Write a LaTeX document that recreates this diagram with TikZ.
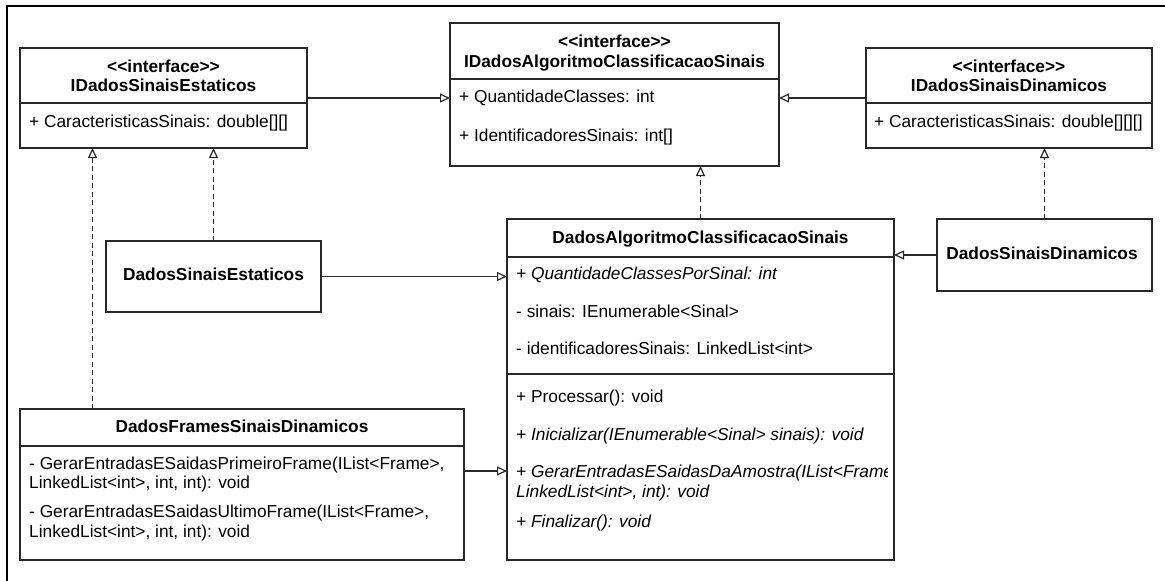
\documentclass[tikz,border=0pt]{standalone}
\usepackage{fontspec}
\setmainfont{Liberation Sans}
\usetikzlibrary{arrows.meta}
\definecolor{linec}{RGB}{40,40,40}
\begin{document}
\begin{tikzpicture}[x=1pt,y=-1pt,
  umlbox/.style={draw=linec, line width=1.3pt, fill=white, anchor=north west, inner sep=0pt, outer sep=0pt},
  txt/.style={inner sep=0pt, anchor=mid west, yshift=-1.5pt, font=\fontsize{17.3pt}{20pt}\selectfont},
  itxt/.style={inner sep=0pt, anchor=mid west, yshift=-1.5pt, font=\fontsize{17.3pt}{20pt}\selectfont\itshape},
  ctxt/.style={inner sep=0pt, anchor=mid, yshift=-1.5pt, font=\fontsize{17.3pt}{20pt}\selectfont\bfseries},
  real/.style={draw=linec, line width=1.2pt, -{Triangle[length=10pt,width=9pt,fill=white]}},
  impl/.style={real, dash pattern=on 5pt off 3.5pt},
  sepline/.style={draw=linec, line width=1.3pt}
]
\useasboundingbox (0,0) rectangle (1165,581);
% outer frame
\draw[line width=2.2pt] (7,581) -- (7,6) -- (1165,6);

% boxes
\node[umlbox, minimum width=287pt, minimum height=100pt] (idse) at (20,48) {};
\node[umlbox, minimum width=329pt, minimum height=143pt] (ida) at (450,23) {};
\node[umlbox, minimum width=286pt, minimum height=100pt] (idsd) at (866,48) {};
\node[umlbox, minimum width=215pt, minimum height=71pt] (dse) at (106,241) {};
\node[umlbox, minimum width=387pt, minimum height=341pt] (da) at (507,219) {};
\node[umlbox, minimum width=215pt, minimum height=72pt] (dsd) at (937,219) {};
\node[umlbox, minimum width=444pt, minimum height=151pt] (dfsd) at (20,409) {};

% compartment lines
\draw[sepline] (idse.west |- 0,103) -- (idse.east |- 0,103);
\draw[sepline] (ida.west |- 0,79) -- (ida.east |- 0,79);
\draw[sepline] (idsd.west |- 0,103) -- (idsd.east |- 0,103);
\draw[sepline] (da.west |- 0,257) -- (da.east |- 0,257);
\draw[sepline] (da.west |- 0,374) -- (da.east |- 0,374);
\draw[sepline] (dfsd.west |- 0,446) -- (dfsd.east |- 0,446);

% IDadosSinaisEstaticos
\node[ctxt] (idse-st) at (163.5,68) {<{}<interface>{}>};
\node[ctxt] (idse-nm) at (163.5,87) {IDadosSinaisEstaticos};
\node[txt] (idse-a1) at (29,123) {+ CaracteristicasSinais: double[][]};

% IDadosAlgoritmoClassificacaoSinais
\node[ctxt] (ida-st) at (614.5,43) {<{}<interface>{}>};
\node[ctxt] (ida-nm) at (614.5,63) {IDadosAlgoritmoClassificacaoSinais};
\node[txt] (ida-a1) at (459,98) {+ QuantidadeClasses: int};
\node[txt] (ida-a2) at (459,137) {+ IdentificadoresSinais: int[]};

% IDadosSinaisDinamicos
\node[ctxt] (idsd-st) at (1009,68) {<{}<interface>{}>};
\node[ctxt] (idsd-nm) at (1009,87) {IDadosSinaisDinamicos};
\node[txt] (idsd-a1) at (874,123) {+ CaracteristicasSinais: double[][][]};

% DadosSinaisEstaticos
\node[ctxt] (dse-nm) at (213.5,276) {DadosSinaisEstaticos};

% DadosSinaisDinamicos
\node[ctxt] (dsd-nm) at (1042,255) {DadosSinaisDinamicos};

% DadosAlgoritmoClassificacaoSinais
\node[ctxt] (da-nm) at (700.5,239) {DadosAlgoritmoClassificacaoSinais};
\node[itxt] (da-a1) at (516,275) {+ QuantidadeClassesPorSinal: int};
\node[txt] (da-a2) at (516,313) {- sinais: IEnumerable<Sinal>};
\node[txt] (da-a3) at (516,350) {- identificadoresSinais: LinkedList<int>};
\node[txt] (da-m1) at (516,398) {+ Processar(): void};
\node[itxt] (da-m2) at (516,436) {+ Inicializar(IEnumerable<Sinal> sinais): void};
\begin{scope}
\clip (507,450) rectangle (887,490);
\node[itxt] (da-m3) at (516,473) {+ GerarEntradasESaidasDaAmostra(IList<Frame>,};
\end{scope}
\node[itxt] (da-m3b) at (516,493) {LinkedList<int>, int): void};
\node[itxt] (da-m4) at (516,523) {+ Finalizar(): void};

% DadosFramesSinaisDinamicos
\node[ctxt] (dfsd-nm) at (242,428) {DadosFramesSinaisDinamicos};
\node[txt] (dfsd-m1) at (29,465) {- GerarEntradasESaidasPrimeiroFrame(IList<Frame>,};
\node[txt] (dfsd-m1b) at (29,484) {LinkedList<int>, int, int): void};
\node[txt] (dfsd-m2) at (29,513) {- GerarEntradasESaidasUltimoFrame(IList<Frame>,};
\node[txt] (dfsd-m2b) at (29,533) {LinkedList<int>, int, int): void};

% connectors
\coordinate (cfr) at (0,471);
\coordinate (cdash) at (92.5,0);
\draw[real] (idse.east) -- (ida.west |- idse.east);
\draw[real] (idsd.west) -- (ida.east |- idsd.west);
\draw[real] (dse.east) -- (da.west |- dse.east);
\draw[real] (dfsd.east |- cfr) -- (da.west |- cfr);
\draw[real] (dsd.west) -- (da.east |- dsd.west);
\draw[impl] (dse.north) -- (idse.south -| dse.north);
\draw[impl] (dfsd.north -| cdash) -- (idse.south -| cdash);
\draw[impl] (da.north) -- (ida.south -| da.north);
\draw[impl] (dsd.north) -- (idsd.south -| dsd.north);
\end{tikzpicture}
\end{document}
